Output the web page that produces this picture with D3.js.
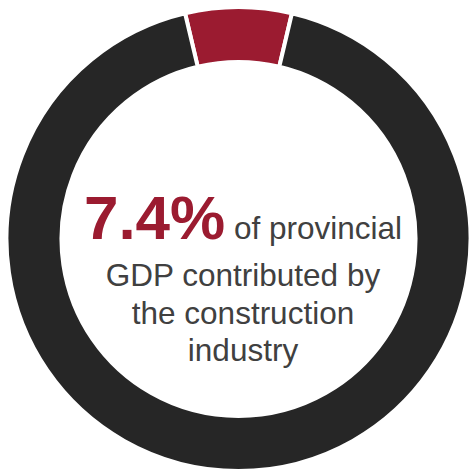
<!DOCTYPE html>
<head>
  <meta charset="utf-8">
  <title>Construction share of GDP</title>
  <script src="https://cdn.jsdelivr.net/npm/d3@7"></script>
  <style>
    body { margin: 0; background: #fff; }
  </style>
</head>
<body>
  <script>
    // share of provincial GDP
    var categories = ["Construction", "Other"];
    var values = [7.4, 92.6];
    var colors = ["#9b1b30", "#262626"];
    var headline = "7.4%";
    var lines = ["of provincial", "GDP contributed by", "the construction", "industry"];

    var W = 471, H = 472;
    var cx = 238.5, cy = 239;
    var rOuter = 232, rInner = 177;

    var svg = d3.select("body").append("svg")
      .attr("width", W)
      .attr("height", H);

    var color = d3.scaleOrdinal().domain(categories).range(colors);

    // red slice centred on top
    var half = values[0] / 100 * Math.PI;
    var pie = d3.pie().sort(null)
      .startAngle(-half)
      .endAngle(2 * Math.PI - half);

    var arc = d3.arc().innerRadius(rInner).outerRadius(rOuter);

    var g = svg.append("g").attr("transform", "translate(" + cx + "," + cy + ")");
    g.selectAll("path")
      .data(pie(values))
      .enter().append("path")
      .attr("d", arc)
      .attr("fill", function(d, i) { return color(categories[i]); })
      .attr("stroke", "#fff")
      .attr("stroke-width", 4);

    var tx = 243;
    var t1 = svg.append("text")
      .attr("x", tx)
      .attr("y", 239)
      .attr("text-anchor", "middle")
      .attr("font-family", "Liberation Sans, Arial, sans-serif");
    t1.append("tspan")
      .attr("font-size", 62)
      .attr("font-weight", "bold")
      .attr("fill", colors[0])
      .text(headline);
    t1.append("tspan")
      .attr("font-size", 31.5)
      .attr("fill", "#404040")
      .text(" " + lines[0]);

    svg.selectAll("text.line")
      .data(lines.slice(1))
      .enter().append("text")
      .attr("class", "line")
      .attr("x", tx)
      .attr("y", function(d, i) { return 286 + i * 37.5; })
      .attr("text-anchor", "middle")
      .attr("font-family", "Liberation Sans, Arial, sans-serif")
      .attr("font-size", 31.5)
      .attr("fill", "#404040")
      .text(function(d) { return d; });
  </script>
</body>
